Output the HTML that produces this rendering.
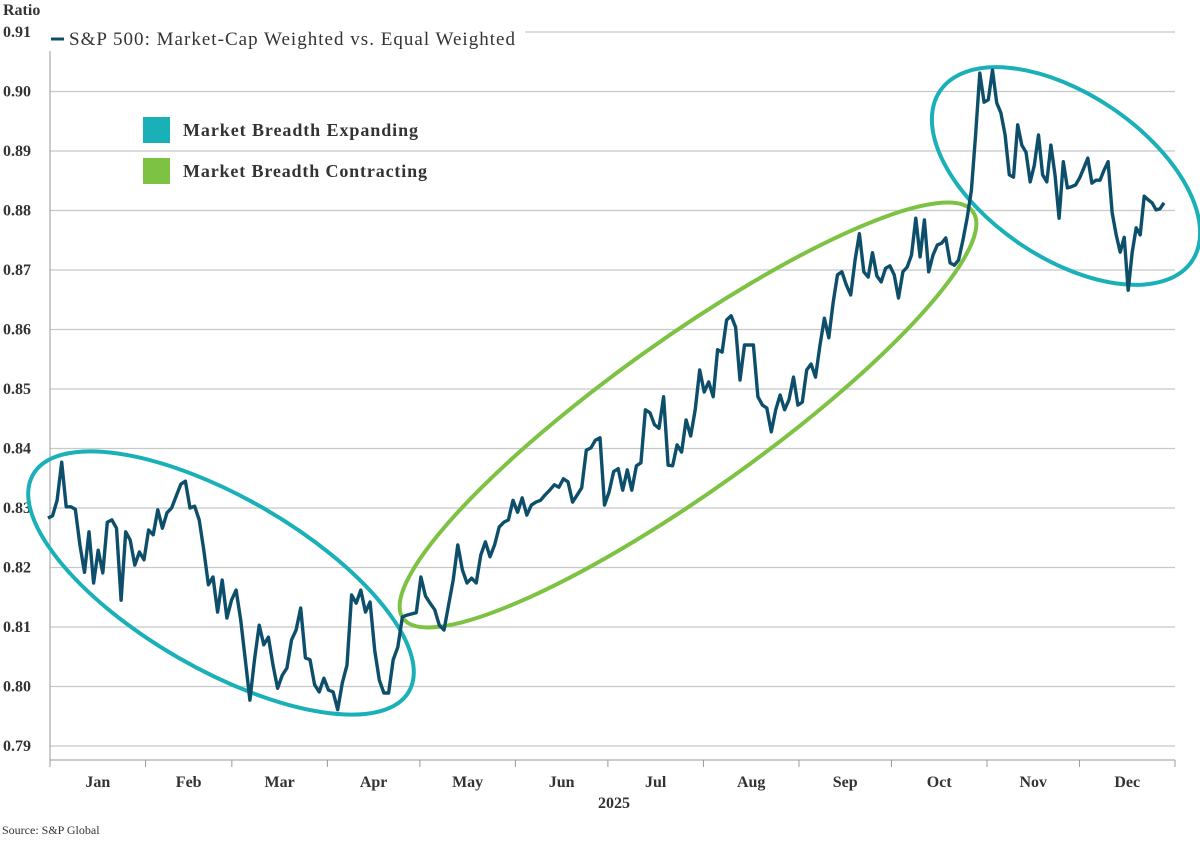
<!DOCTYPE html>
<html><head><meta charset="utf-8"><style>
body{margin:0;background:#fff;}
svg text{font-family:"Liberation Serif",serif;fill:#333;}
</style></head><body>
<svg width="1200" height="838" viewBox="0 0 1200 838" id="chart">
<g id="grid"></g><g id="axes"></g><g id="ellipses"></g><g id="series"></g><g id="legend"></g>
</svg>
<script>
const yTicks=[0.79,0.80,0.81,0.82,0.83,0.84,0.85,0.86,0.87,0.88,0.89,0.90,0.91];
const monthLabels=["Jan","Feb","Mar","Apr","May","Jun","Jul","Aug","Sep","Oct","Nov","Dec"];
const monthStartDays=[0,31,59,90,120,151,181,212,243,273,304,334,365];
const ratioValues=[0.8283,0.8287,0.8313,0.8377,0.8302,0.8302,0.8298,0.8238,0.8192,0.8260,0.8174,0.8229,0.8191,0.8276,0.8280,0.8266,0.8145,0.8260,0.8246,0.8204,0.8226,0.8213,0.8263,0.8255,0.8297,0.8266,0.8292,0.8300,0.8320,0.8340,0.8345,0.8300,0.8303,0.8280,0.8229,0.8171,0.8184,0.8125,0.8179,0.8115,0.8145,0.8162,0.8112,0.8045,0.7977,0.8045,0.8103,0.8070,0.8083,0.8036,0.7997,0.8019,0.8031,0.8078,0.8095,0.8132,0.8048,0.8045,0.8003,0.7991,0.8014,0.7994,0.7991,0.7961,0.8006,0.8036,0.8154,0.8140,0.8162,0.8125,0.8142,0.8061,0.8011,0.7989,0.7989,0.8045,0.8066,0.8117,0.8120,0.8122,0.8124,0.8184,0.8152,0.8140,0.8129,0.8103,0.8095,0.8137,0.8179,0.8238,0.8196,0.8174,0.8182,0.8174,0.8221,0.8243,0.8218,0.8238,0.8268,0.8276,0.8280,0.8313,0.8293,0.8317,0.8288,0.8305,0.8310,0.8313,0.8322,0.8330,0.8339,0.8335,0.8349,0.8344,0.8310,0.8322,0.8334,0.8397,0.8401,0.8414,0.8418,0.8305,0.8327,0.8361,0.8366,0.8330,0.8364,0.8330,0.8371,0.8376,0.8465,0.8460,0.8440,0.8434,0.8487,0.8372,0.8371,0.8406,0.8394,0.8448,0.8421,0.8465,0.8532,0.8495,0.8512,0.8487,0.8566,0.8562,0.8616,0.8623,0.8604,0.8515,0.8574,0.8574,0.8574,0.8487,0.8473,0.8468,0.8428,0.8465,0.8490,0.8465,0.8482,0.8520,0.8473,0.8478,0.8532,0.8542,0.8520,0.8574,0.8619,0.8586,0.8646,0.8692,0.8697,0.8675,0.8658,0.8717,0.8761,0.8697,0.8688,0.8729,0.8690,0.8680,0.8703,0.8707,0.8692,0.8653,0.8697,0.8705,0.8725,0.8787,0.8722,0.8784,0.8697,0.8725,0.8742,0.8745,0.8754,0.8712,0.8708,0.8717,0.8750,0.8787,0.8834,0.8927,0.9031,0.8982,0.8986,0.9036,0.8981,0.8964,0.8927,0.8860,0.8856,0.8944,0.8910,0.8898,0.8848,0.8876,0.8927,0.8860,0.8848,0.8910,0.8860,0.8787,0.8882,0.8838,0.8840,0.8843,0.8855,0.8871,0.8888,0.8846,0.8851,0.8851,0.8868,0.8882,0.8797,0.8759,0.8730,0.8755,0.8666,0.8730,0.8771,0.8759,0.8824,0.8818,0.8813,0.8801,0.8803,0.8813];

const NS="http://www.w3.org/2000/svg";
const X0=50,X1=1175,Y0=746,Y1=32,VMIN=0.79,VMAX=0.91;
function yScale(v){return Y0-(v-VMIN)/(VMAX-VMIN)*(Y0-Y1);}
function dayScale(d){return X0+d/365*(X1-X0);}
function idxScale(i){const n=ratioValues.length-1;const t=i/n;return 48+(1164-48)*t+26*t*(1-t)*(1+3.85*t);}
function mk(tag,attrs,parent){const e=document.createElementNS(NS,tag);for(const k in attrs)e.setAttribute(k,attrs[k]);parent.appendChild(e);return e;}
const grid=document.getElementById('grid'),axes=document.getElementById('axes');
yTicks.forEach(t=>{
  const y=yScale(t);
  const l=mk('line',{x1:X0,x2:X1,y1:y,y2:y,stroke:'#c8c8c8','stroke-width':1.3},grid);
  
  
  const tx=mk('text',{x:3,y:y+5,'font-size':16,'font-weight':'bold'},axes);
  tx.textContent=t.toFixed(2);
  
  
});
const yl=mk('line',{x1:X0,x2:X0,y1:Y1,y2:762,stroke:'#999','stroke-width':1},axes);


const xl=mk('line',{x1:X0,x2:X1,y1:760,y2:760,stroke:'#999','stroke-width':1},axes);


monthStartDays.forEach(d=>{
  const x=dayScale(d);
  const tk=mk('line',{x1:x,x2:x,y1:760,y2:767,stroke:'#999','stroke-width':1},axes);
  
  
});
monthLabels.forEach((m,i)=>{
  const x=dayScale((monthStartDays[i]+monthStartDays[i+1])/2);
  const tx=mk('text',{x:x,y:787,'font-size':16,'font-weight':'bold','text-anchor':'middle'},axes);
  tx.textContent=m;
  
  
});
const yr=mk('text',{x:614,y:808,'font-size':16,'font-weight':'bold','text-anchor':'middle'},axes);
yr.textContent='2025';


const rt=mk('text',{x:3,y:15,'font-size':16,'font-weight':'bold'},axes);
rt.textContent='Ratio';


const src=mk('text',{x:2,y:834,'font-size':12},axes);
src.textContent='Source: S&P Global';



const el=document.getElementById('ellipses');
const e1=mk('ellipse',{cx:221,cy:583,rx:217,ry:86,transform:'rotate(30 221 583)',fill:'none',stroke:'#1ab0b8','stroke-width':4},el);


const e2=mk('ellipse',{cx:688,cy:415,rx:350,ry:76,transform:'rotate(-35.5 688 415)',fill:'none',stroke:'#7dc242','stroke-width':4},el);


const e3=mk('ellipse',{cx:1066,cy:176,rx:152,ry:82,transform:'rotate(34 1066 176)',fill:'none',stroke:'#1ab0b8','stroke-width':4},el);



const pts=ratioValues.map((v,i)=>idxScale(i).toFixed(1)+','+yScale(v).toFixed(1)).join(' ');
const pl=mk('polyline',{points:pts,fill:'none',stroke:'#0d4f6b','stroke-width':3.4,'stroke-linejoin':'round'},document.getElementById('series'));



const lg=document.getElementById('legend');
const bg=mk('rect',{x:47,y:26,width:478,height:25,fill:'#fff'},lg);


const ll=mk('line',{x1:51,x2:64,y1:39,y2:39,stroke:'#0d4f6b','stroke-width':3},lg);


const lt=mk('text',{x:69,y:45,'font-size':19,textLength:446,lengthAdjust:'spacing'},lg);
lt.textContent='S&P 500: Market-Cap Weighted vs. Equal Weighted';


const s1=mk('rect',{x:143,y:117,width:27,height:26,fill:'#1ab0b8'},lg);


const t1=mk('text',{x:183,y:136,'font-size':18,'font-weight':'bold',textLength:235,lengthAdjust:'spacing'},lg);
t1.textContent='Market Breadth Expanding';


const s2=mk('rect',{x:143,y:158,width:27,height:26,fill:'#7dc242'},lg);


const t2=mk('text',{x:183,y:177,'font-size':18,'font-weight':'bold',textLength:244,lengthAdjust:'spacing'},lg);
t2.textContent='Market Breadth Contracting';


</script>
</body></html>
